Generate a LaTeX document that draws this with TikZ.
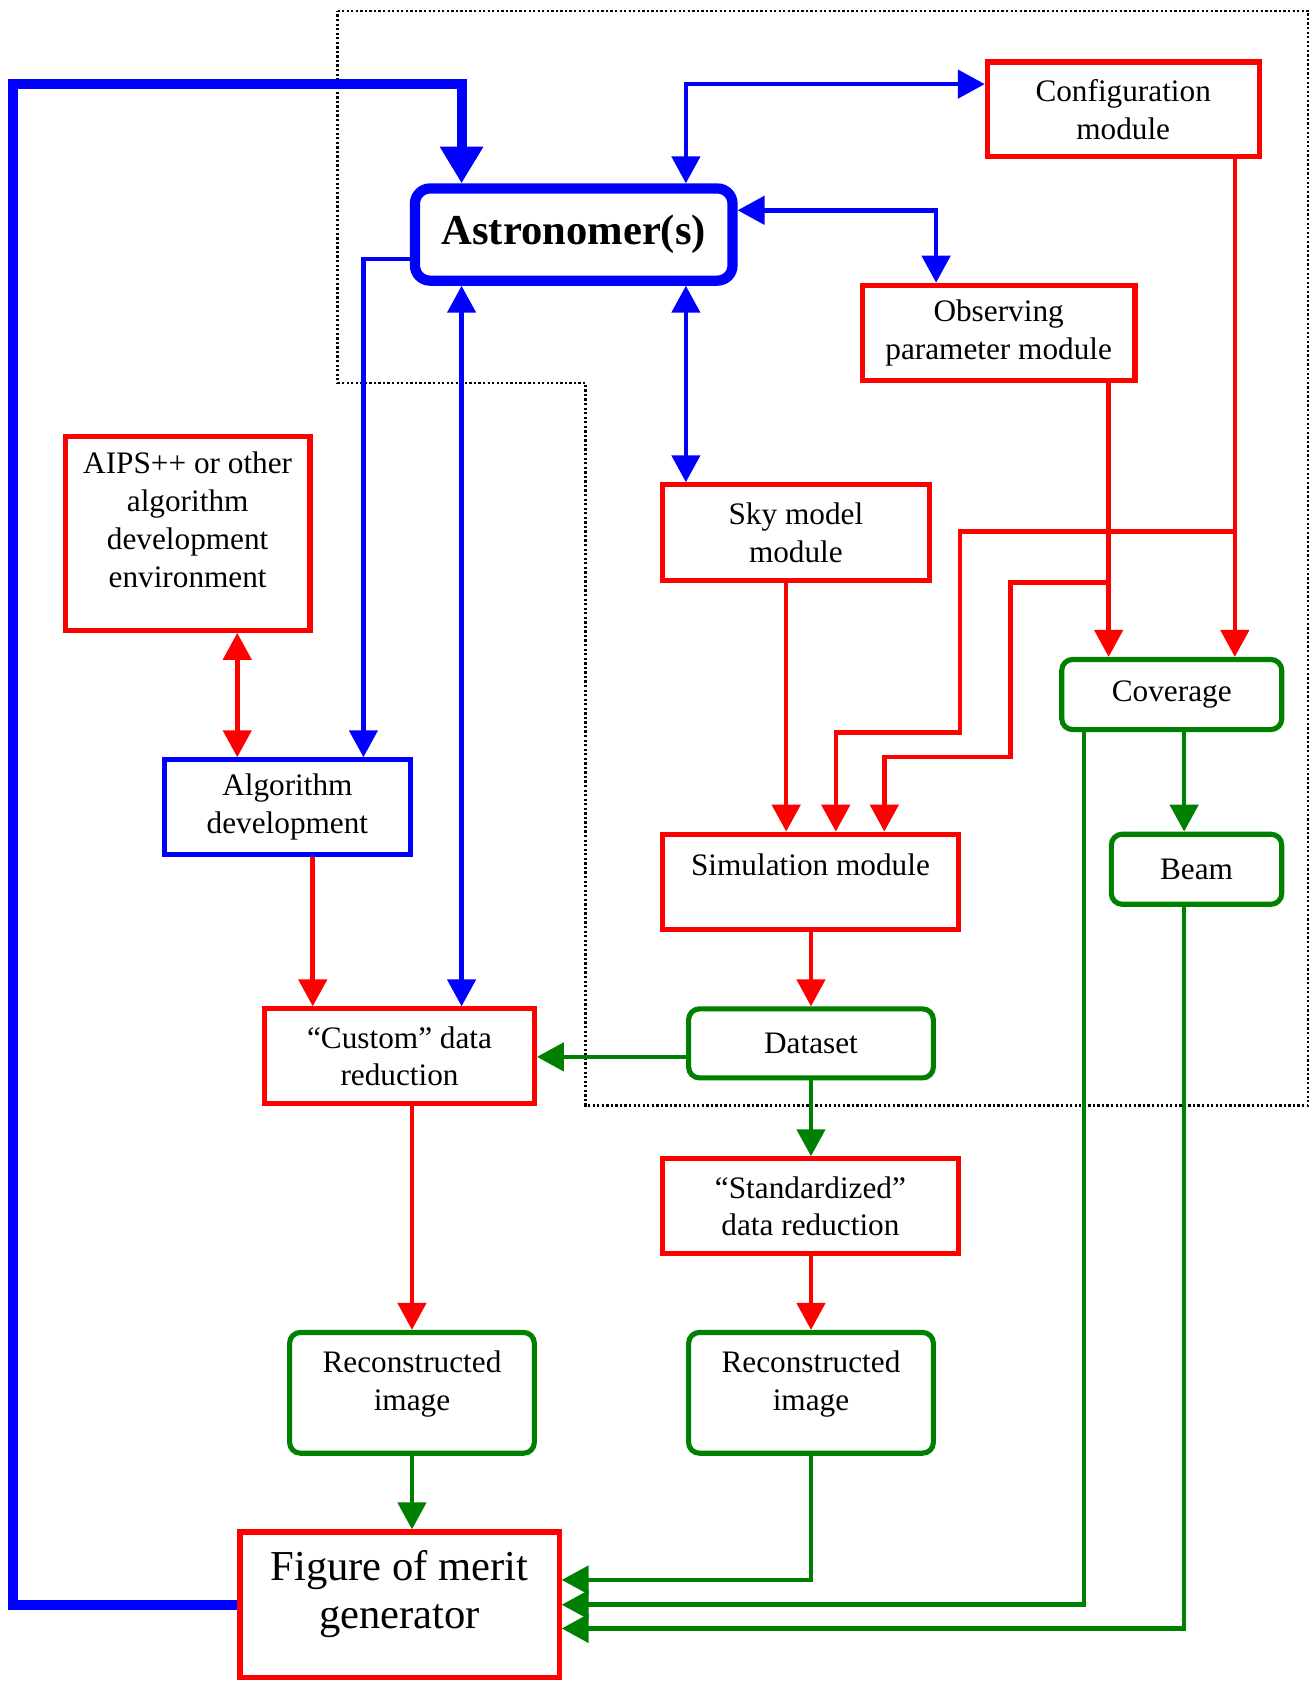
\documentclass[tikz,border=0pt]{standalone}
\usepackage{fontspec}
\setmainfont{Liberation Serif}
\usetikzlibrary{arrows.meta}

\begin{document}
\begin{tikzpicture}[x=0.02cm,y=-0.02cm,
    box/.style={draw,fill=white,line width=2.7pt,inner sep=0pt,align=center,
        font=\fontsize{16.5}{20}\selectfont},
    redbox/.style={box,draw=red},
    bluebox/.style={box,draw=blue},
    greenbox/.style={box,draw=green!50!black,rounded corners=0.2cm},
    con/.style={line width=2.4pt,>={Triangle[length=0.5cm,width=0.52cm]}},
    redline/.style={con,red},
    blueline/.style={con,blue},
    greenline/.style={con,green!50!black}]
    \useasboundingbox (0,0) rectangle (1219,1568);
    % dotted region
    \draw[line width=1.2pt,dash pattern=on 1.2pt off 1.2pt]
        (313,10) -- (1213,10) -- (1213,1025) -- (543,1025) -- (543,355) -- (313,355) -- cycle;

    \node[bluebox,line width=5.4pt,rounded corners=0.28cm,minimum width=5.89cm,minimum height=1.71cm,
        font=\fontsize{22.5}{27}\selectfont\bfseries] (astro) at (532,217.5) {Astronomer(s)};
    \node[redbox,minimum width=5.04cm,minimum height=1.76cm] (config) at (1041.5,101.5) {Configuration\\module};
    \node[redbox,minimum width=5.06cm,minimum height=1.76cm] (obs) at (926,308.5) {Observing\\parameter module};
    \node[redbox,minimum width=4.94cm,minimum height=1.78cm] (sky) at (738,494) {Sky model\\module};
    \node[redbox,minimum width=4.54cm,minimum height=3.6cm,text depth=0.5cm] (aips) at (174,494.5)
        {AIPS++ or other\\algorithm\\development\\environment};
    \node[bluebox,minimum width=4.56cm,minimum height=1.76cm] (algo) at (266.5,748.5) {Algorithm\\development};
    \node[redbox,minimum width=5.48cm,minimum height=1.76cm,text depth=0.62cm] (sim) at (751.5,817.5) {Simulation module};
    \node[greenbox,minimum width=4.08cm,minimum height=1.3cm] (cov) at (1086.5,644) {Coverage};
    \node[greenbox,minimum width=3.16cm,minimum height=1.3cm] (beam) at (1109.5,806) {Beam};
    \node[redbox,minimum width=5cm,minimum height=1.76cm] (custom) at (370.5,979.5) {``Custom'' data\\reduction};
    \node[greenbox,minimum width=4.54cm,minimum height=1.28cm] (data) at (752,967.5) {Dataset};
    \node[redbox,minimum width=5.48cm,minimum height=1.76cm] (std) at (751.5,1118.5) {``Standardized''\\data reduction};
    \node[greenbox,minimum width=4.54cm,minimum height=2.24cm,text depth=0.45cm] (rec1) at (382,1291.5) {Reconstructed\\image};
    \node[greenbox,minimum width=4.54cm,minimum height=2.24cm,text depth=0.45cm] (rec2) at (752,1291.5) {Reconstructed\\image};
    \node[redbox,minimum width=5.92cm,minimum height=2.7cm,text depth=0.57cm,
        font=\fontsize{22.5}{25.6}\selectfont] (merit) at (370.5,1488) {Figure of merit\\generator};

    % blue
    \draw[blue,line width=5.3pt,-{Triangle[length=0.68cm,width=0.76cm]}]
        (merit.west) -| (12,78) -| (astro.north -| 428,0);
    \draw[blueline,<->] (astro.north -| 636,0) |- (config.west |- 0,78);
    \draw[blueline,<->] (astro.east |- 0,195) -| (obs.north -| 868,0);
    \draw[blueline,<->] (astro.south -| 636,0) -- (sky.north -| 636,0);
    \draw[blueline,<->] (astro.south -| 428,0) -- (custom.north -| 428,0);
    \draw[blueline,->] (astro.west |- 0,240) -| (algo.north -| 337,0);
    % red
    \draw[redline,<->] (aips.south -| 220,0) -- (algo.north -| 220,0);
    \draw[redline,->] (algo.south -| 290,0) -- (custom.north -| 290,0);
    \draw[redline,->] (sky.south -| 729,0) -- (sim.north -| 729,0);
    \draw[redline,->] (config.south -| 1145,0) |- (890,493) |- (775,679) -- (sim.north -| 775,0);
    \draw[redline,->] (obs.south -| 1028,0) |- (937,540) |- (820,702) -- (sim.north -| 820,0);
    \draw[redline,->] (config.south -| 1145,0) -- (cov.north -| 1145,0);
    \draw[redline,->] (obs.south -| 1028,0) -- (cov.north -| 1028,0);
    \draw[redline,->] (sim.south -| data.north) -- (data.north);
    \draw[redline,->] (custom.south -| rec1.north) -- (rec1.north);
    \draw[redline,->] (std.south -| rec2.north) -- (rec2.north);
    % green
    \draw[greenline,->] (cov.south -| 1098,0) -- (beam.north -| 1098,0);
    \draw[greenline,->] (data.west |- 0,980) -- (custom.east |- 0,980);
    \draw[greenline,->] (data.south) -- (std.north -| data.south);
    \draw[greenline,->] (rec1.south) -- (merit.north -| rec1.south);
    \draw[greenline,->] (rec2.south) |- (merit.east |- 0,1465);
    \draw[greenline,->] (cov.south -| 1005,0) |- (merit.east |- 0,1488);
    \draw[greenline,->] (beam.south -| 1098,0) |- (merit.east |- 0,1510);
\end{tikzpicture}
\end{document}
